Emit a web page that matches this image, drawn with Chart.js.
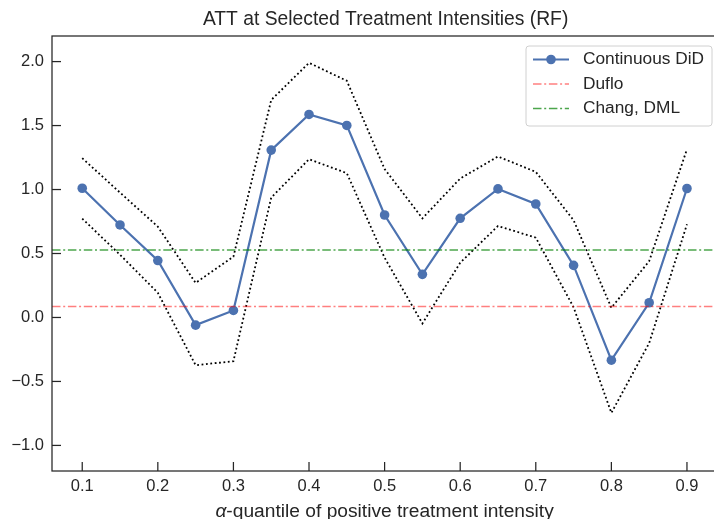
<!DOCTYPE html>
<html><head><meta charset="utf-8">
<script src="https://cdn.jsdelivr.net/npm/chart.js@4/dist/chart.umd.min.js"></script>
<style>
html,body{margin:0;padding:0;background:#fff;overflow:hidden;width:714px;height:519px}
#wrap{position:relative;width:714px;height:519px;overflow:hidden}
canvas{position:absolute;left:0;top:0}
</style></head>
<body><div id="wrap"><canvas id="c" width="722" height="519" style="width:722px;height:519px"></canvas></div>
<script>
// ---- data ----
const quantiles = [0.1, 0.15, 0.2, 0.25, 0.3, 0.35, 0.4, 0.45, 0.5, 0.55, 0.6, 0.65, 0.7, 0.75, 0.8, 0.85, 0.9];
const attEstimates = [1.01, 0.723, 0.445, -0.06, 0.055, 1.308, 1.587, 1.501, 0.801, 0.337, 0.775, 1.005, 0.887, 0.407, -0.334, 0.115, 1.008];
const ciUpper = [1.245, 0.976, 0.71, 0.27, 0.475, 1.70, 1.99, 1.85, 1.16, 0.775, 1.086, 1.258, 1.138, 0.76, 0.076, 0.44, 1.315];
const ciLower = [0.773, 0.49, 0.193, -0.373, -0.342, 0.937, 1.237, 1.128, 0.467, -0.047, 0.428, 0.715, 0.624, 0.08, -0.746, -0.2, 0.728];
const dufloEstimate = 0.086;
const changDmlEstimate = 0.527;
const xTickValues = [0.1, 0.2, 0.3, 0.4, 0.5, 0.6, 0.7, 0.8, 0.9];
const yTickValues = [-1.0, -0.5, 0.0, 0.5, 1.0, 1.5, 2.0];
const xRange = [0.06, 0.94];
const yRange = [-1.2, 2.2];
const titleText = 'ATT at Selected Treatment Intensities (RF)';
const xLabelSymbol = 'α';
const xLabelRest = '-quantile of positive treatment intensity';
const legendLabels = ['Continuous DiD', 'Duflo', 'Chang, DML'];

// ---- styles ----
const FONT = '"Liberation Sans", Arial, sans-serif';
const TXT = '#262626';
const BLUE = '#4c72b0';
const RED = 'rgba(255,0,0,0.5)';
const GREEN = 'rgba(0,128,0,0.7)';
const DASHDOT = [8.5, 2.7, 2, 2.7];
const DOT = [1.8, 2.6];

const pts = (ys) => quantiles.map((q, i) => ({x: q, y: ys[i]}));
const hline = (v) => [{x: xRange[0], y: v}, {x: xRange[1], y: v}];

const decor = {
  id: 'decor',
  afterDraw(chart) {
    const {ctx, chartArea: a, scales: {x, y}} = chart;
    ctx.save();
    // frame
    ctx.strokeStyle = TXT; ctx.lineWidth = 1.25; ctx.setLineDash([]);
    ctx.strokeRect(a.left, a.top, a.right - a.left, a.bottom - a.top);
    // inward ticks
    xTickValues.forEach(v => {
      const px = x.getPixelForValue(v);
      ctx.beginPath(); ctx.moveTo(px, a.bottom); ctx.lineTo(px, a.bottom - 9); ctx.stroke();
    });
    yTickValues.forEach(v => {
      const py = y.getPixelForValue(v);
      ctx.beginPath(); ctx.moveTo(a.left, py); ctx.lineTo(a.left + 9, py); ctx.stroke();
    });
    // title
    ctx.fillStyle = TXT;
    ctx.textAlign = 'center'; ctx.textBaseline = 'alphabetic';
    ctx.font = '19.3px ' + FONT;
    ctx.fillText(titleText, (a.left + a.right) / 2 + 1, 25);
    // x label (italic alpha)
    const fI = 'italic 19.2px ' + FONT, fN = '19.2px ' + FONT;
    ctx.font = fI; const w1 = ctx.measureText(xLabelSymbol).width;
    ctx.font = fN; const w2 = ctx.measureText(xLabelRest).width;
    const sx = (a.left + a.right) / 2 - (w1 + w2) / 2;
    ctx.textAlign = 'left';
    ctx.font = fI; ctx.fillText(xLabelSymbol, sx, 517);
    ctx.font = fN; ctx.fillText(xLabelRest, sx + w1, 517);
    // legend
    const lx = 526, ly = 46, lw = 186, lh = 80, r = 3;
    ctx.beginPath();
    ctx.moveTo(lx + r, ly); ctx.lineTo(lx + lw - r, ly); ctx.arcTo(lx + lw, ly, lx + lw, ly + r, r);
    ctx.lineTo(lx + lw, ly + lh - r); ctx.arcTo(lx + lw, ly + lh, lx + lw - r, ly + lh, r);
    ctx.lineTo(lx + r, ly + lh); ctx.arcTo(lx, ly + lh, lx, ly + lh - r, r);
    ctx.lineTo(lx, ly + r); ctx.arcTo(lx, ly, lx + r, ly, r); ctx.closePath();
    ctx.fillStyle = 'rgba(255,255,255,0.8)'; ctx.fill();
    ctx.strokeStyle = '#d0d0d0'; ctx.lineWidth = 1; ctx.stroke();
    const rows = [59.5, 84, 108.5];
    const styles = [{c: BLUE, w: 2.2, d: [], m: true}, {c: RED, w: 1.5, d: DASHDOT}, {c: GREEN, w: 1.5, d: DASHDOT}];
    rows.forEach((ry, i) => {
      const s = styles[i];
      ctx.strokeStyle = s.c; ctx.lineWidth = s.w; ctx.setLineDash(s.d);
      ctx.beginPath(); ctx.moveTo(533, ry); ctx.lineTo(569, ry); ctx.stroke();
      ctx.setLineDash([]);
      if (s.m) { ctx.fillStyle = BLUE; ctx.beginPath(); ctx.arc(551, ry, 4.8, 0, Math.PI * 2); ctx.fill(); }
      ctx.fillStyle = TXT; ctx.font = '17.3px ' + FONT; ctx.textAlign = 'left'; ctx.textBaseline = 'middle';
      ctx.fillText(legendLabels[i], 583, ry);
    });
    ctx.restore();
  }
};

new Chart(document.getElementById('c'), {
  type: 'line',
  data: {
    datasets: [
      {label: legendLabels[0], data: pts(attEstimates), borderColor: BLUE, backgroundColor: BLUE, borderWidth: 2.2,
       pointRadius: 4.8, pointBorderWidth: 0, pointBackgroundColor: BLUE, tension: 0, order: 1},
      {label: 'upper', data: pts(ciUpper), borderColor: '#000', borderWidth: 1.8, borderDash: DOT, pointRadius: 0, tension: 0, order: 2},
      {label: 'lower', data: pts(ciLower), borderColor: '#000', borderWidth: 1.8, borderDash: DOT, pointRadius: 0, tension: 0, order: 2},
      {label: legendLabels[1], data: hline(dufloEstimate), borderColor: RED, borderWidth: 1.5, borderDash: DASHDOT, pointRadius: 0, order: 0},
      {label: legendLabels[2], data: hline(changDmlEstimate), borderColor: GREEN, borderWidth: 1.5, borderDash: DASHDOT, pointRadius: 0, order: 0}
    ]
  },
  options: {
    responsive: false, animation: false, devicePixelRatio: 1,
    layout: {padding: {top: 36, right: 1, left: 0, bottom: 0}},
    plugins: {legend: {display: false}, tooltip: {enabled: false}, title: {display: false}},
    scales: {
      x: {type: 'linear', min: xRange[0], max: xRange[1],
          afterBuildTicks: s => { s.ticks = xTickValues.map(v => ({value: v})); },
          afterFit: s => { s.height = 48; },
          grid: {display: false, drawTicks: false}, border: {display: false},
          ticks: {color: TXT, font: {family: FONT, size: 16.5}, padding: 6, maxRotation: 0, autoSkip: false,
                  callback: v => v.toFixed(1)}},
      y: {type: 'linear', min: yRange[0], max: yRange[1],
          afterBuildTicks: s => { s.ticks = yTickValues.map(v => ({value: v})); },
          afterFit: s => { s.width = 52; },
          grid: {display: false, drawTicks: false}, border: {display: false},
          ticks: {color: TXT, font: {family: FONT, size: 16.5}, padding: 8, autoSkip: false,
                  callback: v => (v < 0 ? '\u2212' : '') + Math.abs(v).toFixed(1)}}
    }
  },
  plugins: [decor]
});
</script></body></html>
